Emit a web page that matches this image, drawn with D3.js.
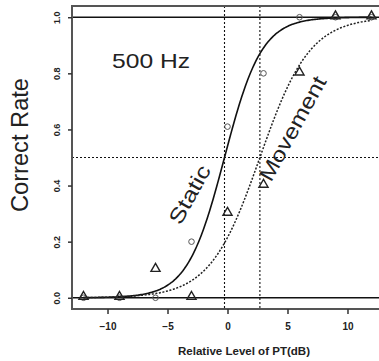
<!DOCTYPE html>
<html>
<head>
<meta charset="utf-8">
<title>500 Hz psychometric curves</title>
<style>
  body { margin: 0; background: #fff; }
  text { font-family: "Liberation Sans", Arial, sans-serif; fill: #222; }
  .tick-lab { font-weight: bold; }
</style>
<script src="https://d3js.org/d3.v7.min.js"></script>
</head>
<body>
<div id="chart"></div>
<script>
// relative level of PT (dB)
var levels = [-12, -9, -6, -3, 0, 3, 6, 9, 12];
// correct rate, static condition (circles)
var staticRate = [0, 0, 0, 0.2, 0.61, 0.8, 1.0, 1.0, 1.0];
// correct rate, movement condition (triangles)
var movementRate = [0, 0, 0.1, 0, 0.3, 0.4, 0.8, 1.0, 1.0];
// fitted logistic: threshold (50% point) and slope
var staticFit = [-0.25, 0.645];
var movementFit = [2.7, 0.48];

var xTicks = [-10, -5, 0, 5, 10];
var yTicks = [0, 0.2, 0.4, 0.6, 0.8, 1.0];

var W = 379, H = 361;

var svg = d3.select("#chart").append("svg")
  .attr("width", W).attr("height", H);

var x = d3.scaleLinear().domain([-12.96, 12.96]).range([72, 383]);
var y = d3.scaleLinear().domain([-0.04, 1.04]).range([309, 6]);

// reference lines
svg.selectAll(".hline").data([0, 1]).enter().append("line")
  .attr("x1", 72).attr("x2", W)
  .attr("y1", d => y(d)).attr("y2", d => y(d))
  .attr("stroke", "#111").attr("stroke-width", 1.4);

svg.append("line")
  .attr("x1", 72).attr("x2", W)
  .attr("y1", y(0.5)).attr("y2", y(0.5))
  .attr("stroke", "#111").attr("stroke-width", 1.1)
  .attr("stroke-dasharray", "2,2");

svg.selectAll(".vline").data([staticFit[0], movementFit[0]]).enter().append("line")
  .attr("x1", d => x(d)).attr("x2", d => x(d))
  .attr("y1", 6).attr("y2", 309)
  .attr("stroke", "#111").attr("stroke-width", 1.1)
  .attr("stroke-dasharray", "2,2");

// fitted curves
function logistic(fit) {
  return d3.range(-12, 12.01, 0.1).map(v => [v, 1 / (1 + Math.exp(-fit[1] * (v - fit[0])))]);
}
var line = d3.line().x(d => x(d[0])).y(d => y(d[1]));

svg.append("path")
  .attr("d", line(logistic(staticFit)))
  .attr("fill", "none").attr("stroke", "#111").attr("stroke-width", 1.6);

svg.append("path")
  .attr("d", line(logistic(movementFit)))
  .attr("fill", "none").attr("stroke", "#222").attr("stroke-width", 1.5)
  .attr("stroke-dasharray", "2,1.6");

// points
svg.selectAll(".circ").data(levels).enter().append("circle")
  .attr("cx", d => x(d)).attr("cy", (d, i) => y(staticRate[i]))
  .attr("r", 2.8)
  .attr("fill", "none").attr("stroke", "#555").attr("stroke-width", 1);

var tri = d3.symbol().type(d3.symbolTriangle).size(36);
svg.selectAll(".tri").data(levels).enter().append("path")
  .attr("d", tri)
  .attr("transform", (d, i) => "translate(" + x(d) + "," + (y(movementRate[i]) - 1) + ")")
  .attr("fill", "none").attr("stroke", "#222").attr("stroke-width", 1.4);

// box (left, top, bottom)
svg.append("path")
  .attr("d", "M" + W + ",6H72V309H" + W)
  .attr("fill", "none").attr("stroke", "#555").attr("stroke-width", 2);

// axes
var xAxis = svg.append("g").attr("transform", "translate(0,309)")
  .call(d3.axisBottom(x).tickValues(xTicks).tickSize(5).tickPadding(9)
    .tickFormat(d => d < 0 ? "\u2212" + Math.abs(d) : d));
xAxis.select(".domain").remove();
xAxis.selectAll("line").attr("stroke", "#333").attr("stroke-width", 1.5);
xAxis.selectAll("text").attr("class", "tick-lab").style("font-size", "10px")
  .attr("fill", "#222").style("font-family", "Liberation Sans, Arial, sans-serif");

var yAxis = svg.append("g").attr("transform", "translate(72,0)")
  .call(d3.axisLeft(y).tickValues(yTicks).tickSize(4).tickFormat(d3.format(".1f")));
yAxis.select(".domain").remove();
yAxis.selectAll("line").attr("stroke", "#333").attr("stroke-width", 1.5);
yAxis.selectAll("text")
  .attr("class", "tick-lab")
  .attr("x", null).attr("dy", null)
  .attr("text-anchor", "middle")
  .attr("transform", "translate(-12,0) rotate(-90)")
  .style("font-size", "9px").attr("fill", "#222")
  .style("font-family", "Liberation Sans, Arial, sans-serif");

// labels
svg.append("text")
  .attr("transform", "translate(28,145) rotate(-90)")
  .attr("text-anchor", "middle")
  .attr("textLength", 134).attr("lengthAdjust", "spacingAndGlyphs")
  .style("font-size", "23px")
  .text("Correct Rate");

svg.append("text")
  .attr("x", 244).attr("y", 355)
  .attr("text-anchor", "middle")
  .attr("textLength", 132).attr("lengthAdjust", "spacingAndGlyphs")
  .style("font-size", "10px").style("font-weight", "bold")
  .text("Relative Level of PT(dB)");

svg.append("text")
  .attr("x", 112).attr("y", 68)
  .attr("textLength", 78).attr("lengthAdjust", "spacingAndGlyphs")
  .style("font-size", "21px")
  .text("500 Hz");

svg.append("text")
  .attr("transform", "translate(196,198) rotate(-61)")
  .attr("text-anchor", "middle")
  .attr("textLength", 64).attr("lengthAdjust", "spacingAndGlyphs")
  .style("font-size", "21px")
  .text("Static");

svg.append("text")
  .attr("transform", "translate(299,132) rotate(-61)")
  .attr("text-anchor", "middle")
  .attr("textLength", 116).attr("lengthAdjust", "spacingAndGlyphs")
  .style("font-size", "21px")
  .text("Movement");
</script>
</body>
</html>
